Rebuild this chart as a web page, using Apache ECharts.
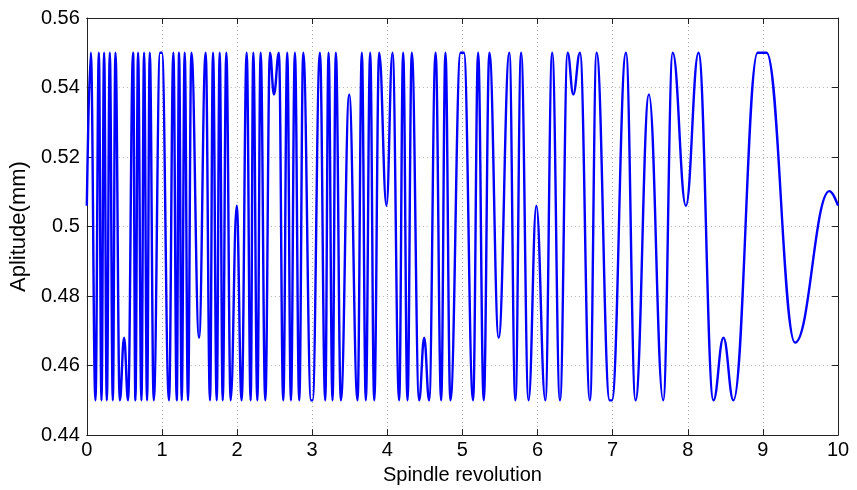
<!DOCTYPE html>
<html>
<head>
<meta charset="utf-8">
<script src="https://cdn.jsdelivr.net/npm/echarts@6/dist/echarts.min.js"></script>
<style>
html,body{margin:0;padding:0;background:#fff;}
#chart{width:857px;height:490px;}
</style>
</head>
<body>
<div id="chart"></div>
<script>
// Turning points of the signal (spindle revolution, amplitude mm)
var revs = [
  0, 0.053, 0.115, 0.160, 0.195, 0.230, 0.266, 0.306, 0.346, 0.381,
  0.439, 0.496, 0.549, 0.616, 0.647, 0.682, 0.727, 0.762, 0.802, 0.838,
  0.891, 0.975, 1.0, 1.094, 1.152, 1.197, 1.228, 1.263, 1.303, 1.347,
  1.392, 1.494, 1.582, 1.640, 1.680, 1.729, 1.769, 1.809, 1.857, 1.915,
  1.995, 2.061, 2.128, 2.181, 2.216, 2.270, 2.314, 2.376, 2.438, 2.491,
  2.557, 2.615, 2.668, 2.717, 2.770, 2.828, 2.881, 2.985, 3.005, 3.103,
  3.174, 3.218, 3.271, 3.315, 3.382, 3.493, 3.604, 3.661, 3.714, 3.772,
  3.826, 3.892, 3.989, 4.069, 4.158, 4.211, 4.269, 4.326, 4.424, 4.491,
  4.557, 4.643, 4.717, 4.774, 4.840, 4.975, 5.02, 5.142, 5.209, 5.284,
  5.359, 5.483, 5.625, 5.705, 5.781, 5.881, 5.984, 6.104, 6.195, 6.299,
  6.401, 6.476, 6.565, 6.698, 6.786, 6.96, 6.99, 7.177, 7.305, 7.483,
  7.673, 7.80, 7.975, 8.143, 8.342, 8.475, 8.608, 8.93, 9.05, 9.428,
  9.885, 10
];
var amps = [
  0.506, 0.55, 0.45, 0.55, 0.45, 0.55, 0.45, 0.55, 0.45, 0.55,
  0.45, 0.468, 0.45, 0.55, 0.45, 0.55, 0.45, 0.55, 0.45, 0.55,
  0.45, 0.55, 0.55, 0.45, 0.55, 0.45, 0.55, 0.45, 0.55, 0.45,
  0.55, 0.468, 0.55, 0.45, 0.55, 0.45, 0.55, 0.45, 0.55, 0.45,
  0.506, 0.45, 0.55, 0.45, 0.55, 0.45, 0.55, 0.45, 0.55, 0.538,
  0.55, 0.45, 0.55, 0.45, 0.55, 0.45, 0.55, 0.45, 0.45, 0.55,
  0.45, 0.55, 0.45, 0.55, 0.45, 0.538, 0.45, 0.55, 0.45, 0.55,
  0.45, 0.55, 0.506, 0.55, 0.45, 0.55, 0.45, 0.55, 0.45, 0.468,
  0.45, 0.55, 0.45, 0.55, 0.45, 0.55, 0.55, 0.45, 0.55, 0.45,
  0.55, 0.468, 0.55, 0.45, 0.55, 0.45, 0.506, 0.45, 0.55, 0.45,
  0.55, 0.538, 0.55, 0.45, 0.55, 0.45, 0.45, 0.55, 0.45, 0.538,
  0.45, 0.55, 0.506, 0.55, 0.45, 0.468, 0.45, 0.55, 0.55, 0.4666,
  0.5102, 0.506
];
var xTicks = [0,1,2,3,4,5,6,7,8,9,10];
var yTicks = ['0.44','0.46','0.48','0.5','0.52','0.54','0.56'];

var data = revs.map(function (x, i) { return [x, amps[i]]; });

var font = "'Liberation Sans', Arial, sans-serif";
var axisLine = { show: true, onZero: false, lineStyle: { color: '#222', width: 1 } };
var split = { show: true, lineStyle: { color: '#b0b0b0', type: [1, 3], width: 1 } };

var chart = echarts.init(document.getElementById('chart'), null, { renderer: 'canvas' });
chart.setOption({
  animation: false,
  backgroundColor: '#fff',
  grid: { left: 86, right: 19, top: 18, bottom: 52, containLabel: false },
  xAxis: [{
    type: 'value', min: 0, max: 10, interval: 1, position: 'bottom',
    name: 'Spindle revolution', nameLocation: 'middle', nameGap: 28,
    nameTextStyle: { fontFamily: font, fontSize: 20, color: '#000' },
    axisLine: axisLine,
    axisTick: { show: true, inside: true, length: 6, lineStyle: { color: '#222' } },
    axisLabel: { fontFamily: font, fontSize: 20, color: '#000', margin: 5,
      formatter: function (v) { return xTicks.indexOf(Math.round(v)) >= 0 ? String(Math.round(v)) : ''; } },
    splitLine: split
  }, {
    type: 'value', min: 0, max: 10, interval: 1, position: 'top',
    axisLine: axisLine,
    axisTick: { show: true, inside: true, length: 6, lineStyle: { color: '#222' } },
    axisLabel: { show: false }, splitLine: { show: false }
  }],
  yAxis: [{
    type: 'value', min: 0.44, max: 0.56, interval: 0.02, position: 'left',
    name: 'Aplitude(mm)', nameLocation: 'middle', nameGap: 52, nameRotate: 90,
    nameTextStyle: { fontFamily: font, fontSize: 22, color: '#000' },
    axisLine: axisLine,
    axisTick: { show: true, inside: true, length: 6, lineStyle: { color: '#222' } },
    axisLabel: { fontFamily: font, fontSize: 20, color: '#000', margin: 7,
      formatter: function (v) { var i = Math.round((v - 0.44) / 0.02); return yTicks[i] || ''; } },
    splitLine: split
  }, {
    type: 'value', min: 0.44, max: 0.56, interval: 0.02, position: 'right',
    axisLine: axisLine,
    axisTick: { show: true, inside: true, length: 6, lineStyle: { color: '#222' } },
    axisLabel: { show: false }, splitLine: { show: false }
  }],
  series: [{
    type: 'line',
    xAxisIndex: 0, yAxisIndex: 0,
    data: data,
    showSymbol: false,
    smooth: 0.42,
    smoothMonotone: 'x',
    lineStyle: { color: '#0000ff', width: 2.4 },
    clip: true
  }]
});
</script>
</body>
</html>
